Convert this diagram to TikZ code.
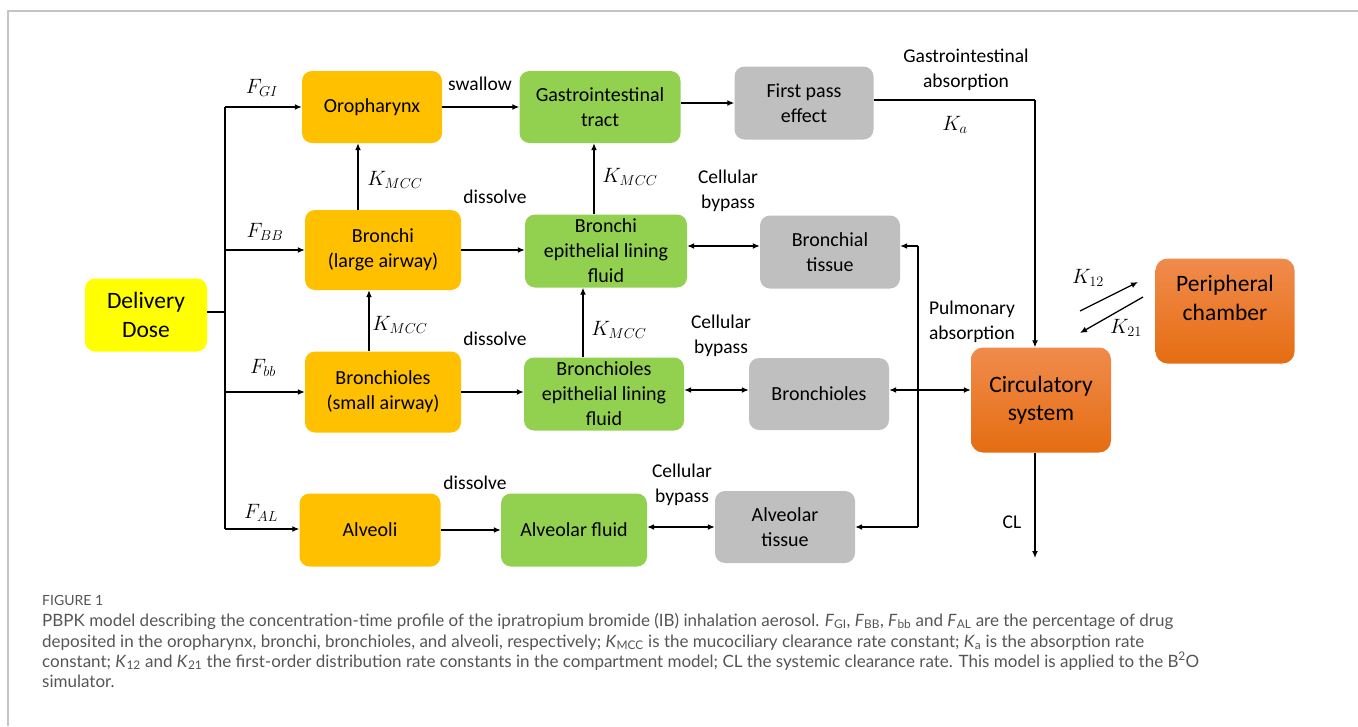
\documentclass[tikz,border=0pt]{standalone}
\usepackage{fontspec}
\setmainfont{Carlito}
\newfontfamily\capfont{Lato}
\usetikzlibrary{arrows.meta,calc}
\definecolor{gold}{HTML}{FFC000}
\definecolor{lgreen}{HTML}{92D050}
\definecolor{lgray}{HTML}{BFBFBF}
\definecolor{dyellow}{HTML}{FFFF00}
\definecolor{otop}{HTML}{F08B4C}
\definecolor{obot}{HTML}{E56D12}
\definecolor{capgray}{HTML}{555555}
\definecolor{framegray}{HTML}{C4C4C4}
\begin{document}
\begin{tikzpicture}[x=1pt,y=-1pt,
  box/.style={rounded corners=10pt, inner sep=0pt, align=center,
    font=\fontsize{20}{25}\selectfont},
  bigbox/.style={rounded corners=12pt, inner sep=0pt, align=center,
    font=\fontsize{23.5}{28.5}\selectfont},
  orangebox/.style={box, fill=gold},
  greenbox/.style={box, fill=lgreen},
  graybox/.style={box, fill=lgray},
  shadedbox/.style={bigbox, top color=otop, bottom color=obot},
  conn/.style={line width=1.3pt, -{Latex[length=7pt,width=6pt]}},
  dconn/.style={line width=1.3pt, {Latex[length=7pt,width=6pt]}-{Latex[length=7pt,width=6pt]}},
  plain/.style={line width=1.3pt},
  lbl/.style={inner sep=0pt, align=center, font=\fontsize{19.5}{25}\selectfont},
  mlbl/.style={inner sep=0pt, font=\fontsize{20}{24}\selectfont},
  capline/.style={anchor=base west, inner sep=0pt, text=capgray, font=\capfont\fontsize{17}{20}\selectfont}
]
\useasboundingbox (0,0) rectangle (1358,726);
% frame
\draw[framegray, line width=2pt] (8,726) -- (8,11) -- (1358,11);

% boxes
\node[box, fill=dyellow, minimum width=122pt, minimum height=73pt,
  font=\fontsize{23.5}{28.5}\selectfont] (dose) at (146,315) {Delivery\\Dose};
\node[orangebox, minimum width=140pt, minimum height=72pt] (oro) at (372,107) {Oropharynx};
\node[greenbox, minimum width=161pt, minimum height=72pt] (git) at (600,107) {Gastrointestinal\\tract};
\node[graybox, minimum width=139pt, minimum height=73pt] (fpe) at (804,103) {First pass\\effect};
\node[orangebox, minimum width=156pt, minimum height=80pt] (bronchi) at (383,250) {Bronchi\\(large airway)};
\node[greenbox, minimum width=162pt, minimum height=73pt] (belf) at (606,251) {Bronchi\\epithelial lining\\fluid};
\node[graybox, minimum width=140pt, minimum height=73pt] (btis) at (830,252) {Bronchial\\tissue};
\node[orangebox, minimum width=156pt, minimum height=81pt] (bchl) at (383,392) {Bronchioles\\(small airway)};
\node[greenbox, minimum width=160pt, minimum height=73pt] (bchlelf) at (604,394) {Bronchioles\\epithelial lining\\fluid};
\node[graybox, minimum width=140pt, minimum height=72pt] (bchlg) at (819,394) {Bronchioles};
\node[orangebox, minimum width=141pt, minimum height=73pt] (alv) at (370,530) {Alveoli};
\node[greenbox, minimum width=146pt, minimum height=73pt] (alvf) at (574,530) {Alveolar fluid};
\node[graybox, minimum width=140pt, minimum height=72pt] (alvt) at (785,527) {Alveolar\\tissue};
\node[shadedbox, minimum width=140pt, minimum height=105pt] (circ) at (1041,400) {Circulatory\\system};
\node[shadedbox, minimum width=139pt, minimum height=105pt] (peri) at (1225,311) {};
\node[lbl, font=\fontsize{23.5}{28.5}\selectfont] (peritxt) at (1225,298) {Peripheral\\chamber};

% branch from dose
\coordinate (bt) at (225,107);
\coordinate (bb) at (225,529);
\draw[plain] (dose.east |- 0,312) -- (225,312);
\draw[plain] (bt) -- (bb);
\draw[conn] (bt) -- (oro.west);
\draw[conn] (bronchi.west -| bt) -- (bronchi.west);
\draw[conn] (bchl.west -| bt) -- (bchl.west);
\draw[conn] (bb) -- (alv.west |- bb);

% horizontal flows
\draw[conn] (oro.east) -- (git.west);
\draw[conn] (git.east |- fpe.west) -- (fpe.west);
\draw[conn] (bronchi.east) -- (belf.west |- bronchi.east);
\draw[conn] (bchl.east) -- (bchlelf.west |- bchl.east);
\draw[conn] (alv.east) -- (alvf.west |- alv.east);
\coordinate (y1) at (0,246);
\coordinate (y2) at (0,390);
\coordinate (y3) at (0,527);
\draw[dconn] (belf.east |- y1) -- (btis.west |- y1);
\draw[dconn] (bchlelf.east |- y2) -- (bchlg.west |- y2);
\draw[dconn] (alvf.east |- y3) -- (alvt.west |- y3);
\draw[dconn] (bchlg.east |- y2) -- (circ.west |- y2);

% pulmonary vertical line
\coordinate (pv1) at (918,246);
\coordinate (pv2) at (918,527);
\draw[plain] (pv1) -- (pv2);
\draw[conn] (pv1) -- (btis.east |- pv1);
\draw[conn] (pv2) -- (alvt.east |- pv2);

% mucociliary clearance arrows
\coordinate (m1) at (358,0);
\coordinate (m2) at (369,0);
\coordinate (m3) at (594,0);
\coordinate (m4) at (583,0);
\draw[conn] (bronchi.north -| m1) -- (oro.south -| m1);
\draw[conn] (bchl.north -| m2) -- (bronchi.south -| m2);
\draw[conn] (belf.north -| m3) -- (git.south -| m3);
\draw[conn] (bchlelf.north -| m4) -- (belf.south -| m4);

% GI absorption
\coordinate (ka) at (1035,100);
\draw[plain] (fpe.east |- ka) -- (ka);
\draw[conn] (ka) -- (ka |- circ.north);

% clearance
\coordinate (clend) at (1035,558);
\draw[conn] (circ.south -| clend) -- (clend);

% peripheral exchange
\coordinate (k12a) at (1080,311);
\coordinate (k12b) at (1138,282);
\coordinate (k21a) at (1143,297);
\coordinate (k21b) at (1080,333);
\draw[conn] (k12a) -- (k12b);
\draw[conn] (k21a) -- (k21b);

% labels
\node[mlbl] (lfgi) at (262,88) {$F_{GI}$};
\node[mlbl] (lfbb) at (265,232) {$F_{BB}$};
\node[mlbl] (lfbs) at (263,368) {$F_{bb}$};
\node[mlbl] (lfal) at (261,513) {$F_{AL}$};
\node[lbl] (lsw) at (480,84) {swallow};
\node[mlbl] (lk1) at (395,180) {$K_{MCC}$};
\node[mlbl] (lk2) at (630,177) {$K_{MCC}$};
\node[mlbl] (lk3) at (400,325) {$K_{MCC}$};
\node[mlbl] (lk4) at (619,330) {$K_{MCC}$};
\node[lbl] (ld1) at (495,197) {dissolve};
\node[lbl] (ld2) at (495,339) {dissolve};
\node[lbl] (ld3) at (475,483) {dissolve};
\node[lbl] (lc1) at (728,190.5) {Cellular\\bypass};
\node[lbl] (lc2) at (721,335.5) {Cellular\\bypass};
\node[lbl] (lc3) at (682,484.5) {Cellular\\bypass};
\node[lbl] (lga) at (966,69.5) {Gastrointestinal\\absorption};
\node[mlbl] (lka) at (955,125) {$K_a$};
\node[lbl] (lpa) at (972,321.5) {Pulmonary\\absorption};
\node[mlbl] (lk12) at (1088,278) {$K_{12}$};
\node[mlbl] (lk21) at (1126,328) {$K_{21}$};
\node[lbl] (lcl) at (1012,522) {CL};

% caption
\node[capline, font=\capfont\fontsize{14}{17}\selectfont] (cap0) at (42,605) {FIGURE 1};
\node[capline] (cap1) at (42,626) {PBPK model describing the concentration-time profile of the ipratropium bromide (IB) inhalation aerosol. \textit{F}\textsubscript{GI}, \textit{F}\textsubscript{BB}, \textit{F}\textsubscript{bb} and \textit{F}\textsubscript{AL} are the percentage of drug};
\node[capline] (cap2) at (42,647) {deposited in the oropharynx, bronchi, bronchioles, and alveoli, respectively; \textit{K}\textsubscript{MCC} is the mucociliary clearance rate constant; \textit{K}\textsubscript{a} is the absorption rate};
\node[capline] (cap3) at (42,667) {constant; \textit{K}\textsubscript{12} and \textit{K}\textsubscript{21} the first-order distribution rate constants in the compartment model; CL the systemic clearance rate. This model is applied to the B\textsuperscript{2}O};
\node[capline] (cap4) at (42,687) {simulator.};
\end{tikzpicture}
\end{document}
